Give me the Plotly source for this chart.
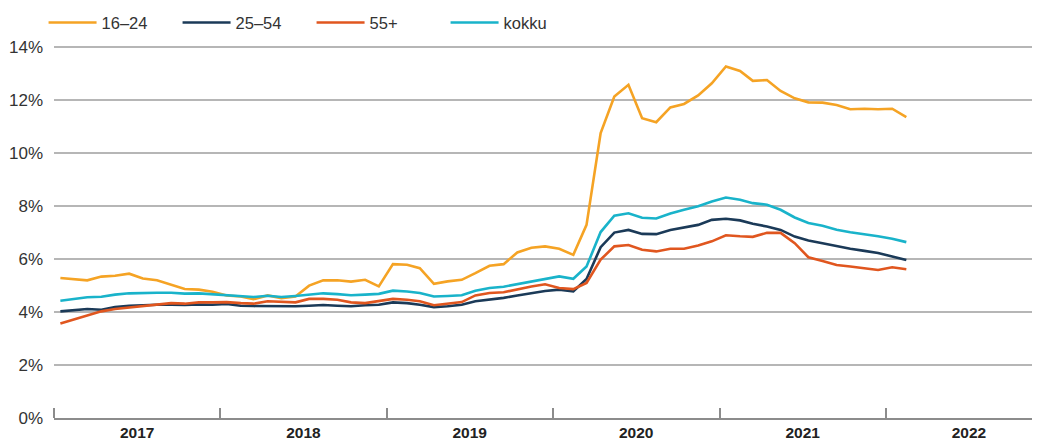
import pandas as pd
import plotly.graph_objects as go

# Monthly observations, Jan 2017 .. Feb 2022 (plotted mid-month)
months = pd.date_range("2017-01-01", "2022-02-01", freq="MS") + pd.Timedelta(days=14)

age_16_24 = [5.28, 5.24, 5.19, 5.33, 5.36, 5.44, 5.26, 5.19, 5.03, 4.86, 4.84, 4.76,
             4.62, 4.58, 4.48, 4.62, 4.52, 4.58, 4.99, 5.19, 5.19, 5.14, 5.21, 4.96,
             5.80, 5.78, 5.65, 5.06, 5.15, 5.21, 5.46, 5.74, 5.80, 6.24, 6.42, 6.47,
             6.38, 6.15, 7.28, 10.74, 12.12, 12.56, 11.30, 11.15, 11.71, 11.84, 12.16, 12.62,
             13.25, 13.08, 12.71, 12.74, 12.33, 12.05, 11.90, 11.89, 11.80, 11.64, 11.66, 11.64,
             11.66, 11.34]
age_25_54 = [4.02, 4.08, 4.11, 4.08, 4.18, 4.23, 4.26, 4.27, 4.27, 4.26, 4.28, 4.27,
             4.30, 4.23, 4.22, 4.21, 4.20, 4.21, 4.23, 4.26, 4.23, 4.21, 4.25, 4.27,
             4.36, 4.33, 4.27, 4.18, 4.21, 4.27, 4.40, 4.46, 4.53, 4.62, 4.71, 4.79,
             4.84, 4.77, 5.24, 6.44, 6.99, 7.09, 6.94, 6.93, 7.09, 7.19, 7.28, 7.47,
             7.51, 7.45, 7.32, 7.22, 7.09, 6.84, 6.69, 6.59, 6.47, 6.38, 6.30, 6.22,
             6.09, 5.96]
age_55_plus = [3.56, 3.71, 3.87, 4.02, 4.11, 4.17, 4.23, 4.29, 4.33, 4.31, 4.36, 4.36,
               4.37, 4.33, 4.31, 4.40, 4.37, 4.36, 4.49, 4.49, 4.46, 4.36, 4.33, 4.40,
               4.49, 4.46, 4.40, 4.25, 4.31, 4.37, 4.62, 4.71, 4.74, 4.86, 4.96, 5.04,
               4.90, 4.86, 5.09, 5.97, 6.47, 6.52, 6.34, 6.28, 6.38, 6.38, 6.50, 6.66,
               6.89, 6.85, 6.83, 6.98, 6.98, 6.59, 6.06, 5.92, 5.77, 5.71, 5.65, 5.58,
               5.68, 5.61]
kokku = [4.42, 4.49, 4.55, 4.57, 4.65, 4.70, 4.72, 4.72, 4.72, 4.69, 4.70, 4.67,
         4.64, 4.61, 4.56, 4.61, 4.56, 4.60, 4.65, 4.70, 4.67, 4.63, 4.65, 4.68,
         4.80, 4.77, 4.71, 4.58, 4.60, 4.63, 4.80, 4.90, 4.95, 5.05, 5.15, 5.26,
         5.34, 5.25, 5.71, 7.01, 7.63, 7.72, 7.55, 7.52, 7.71, 7.85, 7.98, 8.16,
         8.31, 8.23, 8.10, 8.04, 7.85, 7.56, 7.35, 7.25, 7.10, 7.00, 6.93, 6.85,
         6.76, 6.63]

series_names = ["16–24", "25–54", "55+", "kokku"]
series_values = [age_16_24, age_25_54, age_55_plus, kokku]
series_colors = ["#F5A324", "#1B3A58", "#E0561F", "#19B3CA"]

y_ticks = [0, 2, 4, 6, 8, 10, 12, 14]
y_tick_labels = [f"{v}%" for v in y_ticks]

FONT = "Liberation Sans, Arial, sans-serif"

fig = go.Figure()
for name, vals, col in zip(series_names, series_values, series_colors):
    fig.add_trace(go.Scatter(x=months, y=vals, name=name, mode="lines",
                             line=dict(color=col, width=2.6)))

fig.update_layout(
    width=1040, height=442,
    margin=dict(l=46, r=0, t=32, b=31.6, autoexpand=False),
    paper_bgcolor="white", plot_bgcolor="white",
    font=dict(family=FONT, color="#333333"),
    showlegend=True,
    legend=dict(orientation="h", x=-0.0105, y=1.0457, xanchor="left", yanchor="middle",
                font=dict(size=16.5, color="#333333"),
                entrywidth=71, entrywidthmode="pixels", itemwidth=48,
                bgcolor="rgba(0,0,0,0)"),
    xaxis=dict(type="date", range=["2017-01-01", "2022-12-23"], automargin=False,
               tick0="2017-01-01", dtick="M12", tickformat="%Y",
               ticklabelmode="period", ticks="inside", ticklen=10,
               tickwidth=1.5, tickcolor="#8c8c8c",
               showline=True, linecolor="#8c8c8c", linewidth=1.5,
               showgrid=False, zeroline=False, ticklabelstandoff=0,
               tickfont=dict(size=15.5, weight="bold", color="#222222")),
    yaxis=dict(range=[0, 14.25], tickmode="array", tickvals=y_ticks, ticktext=y_tick_labels,
               automargin=False,
               showgrid=True, gridcolor="#b6b6b6", gridwidth=1.5,
               zeroline=False, showline=False, ticks="",
               ticklabelstandoff=10,
               tickfont=dict(size=17, color="#333333")),
)

fig.write_html("out.html")
